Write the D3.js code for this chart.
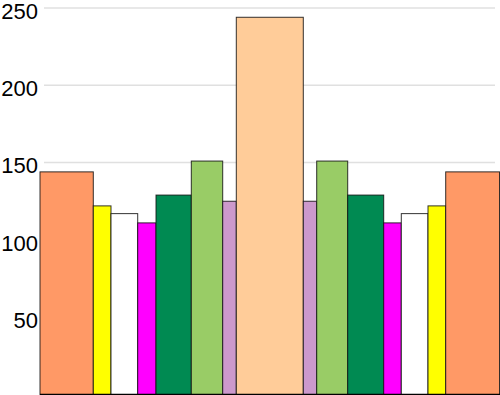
<!DOCTYPE html>
<html>
<head>
<meta charset="utf-8">
<script src="https://cdn.jsdelivr.net/npm/d3@7"></script>
<style>
  html, body { margin: 0; padding: 0; background: #fff; }
  svg { display: block; }
</style>
</head>
<body>
<svg id="chart" width="500" height="395"></svg>
<script>
// Data
const categories = ["A1","B1","C1","D1","E1","F1","G1","H","G2","F2","E2","D2","C2","B2","A2"];
const values = [144, 122, 117, 111, 129, 151, 125, 244, 125, 151, 129, 111, 117, 122, 144];
const widths = [53.3, 17.7, 26.7, 18.3, 35.3, 31.4, 13.6, 67, 13.4, 31, 36, 17.6, 26.7, 17.7, 53.8];
const colors = ["#ff9966", "#ffff00", "#ffffff", "#ff00ff", "#008a52", "#99cc66", "#cc99cc", "#ffcc99",
                "#cc99cc", "#99cc66", "#008a52", "#ff00ff", "#ffffff", "#ffff00", "#ff9966"];
const yTicks = [50, 100, 150, 200, 250];

const svg = d3.select("#chart");
const total = d3.sum(widths);
const x = d3.scaleLinear().domain([0, total]).range([40, 499.5]);
const y = d3.scaleLinear().domain([0, 250]).range([394.5, 8]);

const starts = widths.map((w, i) => d3.sum(widths.slice(0, i)));

// Gridlines
svg.append("g").selectAll("line").data(yTicks).join("line")
  .attr("x1", 44).attr("x2", 495)
  .attr("y1", d => y(d)).attr("y2", d => y(d))
  .attr("stroke", "#e0e0e0").attr("stroke-width", 1.5);

// Bars
svg.append("g").selectAll("rect").data(values).join("rect")
  .attr("x", (d, i) => x(starts[i]))
  .attr("width", (d, i) => x(starts[i] + widths[i]) - x(starts[i]))
  .attr("y", d => y(d))
  .attr("height", d => y(0) - y(d))
  .attr("fill", (d, i) => colors[i])
  .attr("stroke", "#111")
  .attr("stroke-opacity", 0.85)
  .attr("stroke-width", 1);

// Y axis labels
const yAxis = d3.axisLeft(y).tickValues(yTicks).tickSize(0).tickPadding(0);
const gy = svg.append("g").attr("transform", "translate(38,0)").call(yAxis);
gy.select(".domain").remove();
gy.selectAll("text")
  .attr("font-family", "Liberation Sans, Arial, sans-serif")
  .attr("font-size", 22)
  .attr("dy", "0.46em")
  .attr("fill", "#000");

// X axis line
svg.append("line")
  .attr("x1", 40).attr("x2", 500)
  .attr("y1", y(0)).attr("y2", y(0))
  .attr("stroke", "#000").attr("stroke-width", 1.5);
</script>
</body>
</html>
